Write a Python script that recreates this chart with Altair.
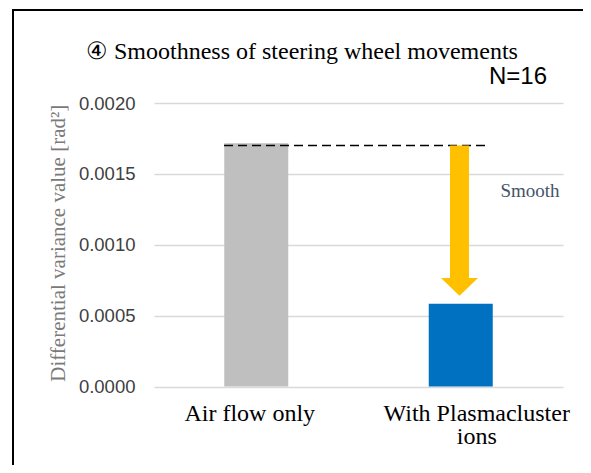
import altair as alt
import pandas as pd

categories = ["Air flow only", "With Plasmacluster ions"]
values = [0.001716, 0.000584]
bar_colors = ["#BFBFBF", "#0070C0"]
y_ticks = [0.0, 0.0005, 0.0010, 0.0015, 0.0020]
reference_level = 0.0017
arrow_shaft_end = 0.000766
smooth_label_y = 0.001337

df = pd.DataFrame({"cat": categories, "val": values, "color": bar_colors})
one = alt.Data(values=[{"a": 1}])

W, H = 409, 283.5

x_enc = alt.X(
    "cat:N",
    sort=categories,
    scale=alt.Scale(domain=categories, paddingInner=0, paddingOuter=0),
    axis=alt.Axis(
        title=None,
        labelAngle=0,
        labelFont="Liberation Serif",
        labelFontSize=24,
        labelColor="#000000",
        labelPadding=33.5,
        labelLineHeight=23.5,
        labelLimit=400,
        labelBaseline="alphabetic",
        labelOffset={"condition": {"test": "datum.value == 'Air flow only'", "value": -6.5}, "value": 16},
        labelExpr="datum.label == 'With Plasmacluster ions' ? ['With Plasmacluster', 'ions'] : datum.label",
        ticks=False,
        domain=False,
        grid=False,
    ),
)

y_scale = alt.Scale(domain=[0, 0.002], nice=False, zero=True)

border = alt.Chart(one).mark_rect(fill=None, stroke="#000000", strokeWidth=2, clip=False).encode(
    x=alt.value(-141), x2=alt.value(460), y=alt.value(-93), y2=alt.value(420)
)

bars = alt.Chart(df).mark_bar(size=64).encode(
    x=x_enc,
    y=alt.Y(
        "val:Q",
        scale=y_scale,
        axis=alt.Axis(
            values=y_ticks,
            format=".4f",
            title="Differential variance value [rad²]",
            titleFont="Liberation Serif",
            titleFontSize=21,
            titleFontWeight="normal",
            titleColor="#7A7A7A",
            titleX=-96,
            titleY=H / 2 - 2,
            titleAngle=-90,
            titleAlign="center",
            titleBaseline="middle",
            labelFont="Liberation Sans",
            labelFontSize=18.5,
            labelColor="#404040",
            labelPadding=19,
            ticks=False,
            domain=False,
            grid=True,
            gridColor="#D9D9D9",
            gridWidth=1.5,
        ),
    ),
    color=alt.Color("color:N", scale=None),
)

dashed = alt.Chart(pd.DataFrame({"y": [reference_level]})).mark_rule(
    color="#000000", strokeDash=[9, 5], strokeWidth=1.5
).encode(y=alt.Y("y:Q", scale=y_scale), x=alt.value(70), x2=alt.value(331))

shaft = alt.Chart(pd.DataFrame({"y": [reference_level], "y2": [arrow_shaft_end]})).mark_rule(
    color="#FFC000", strokeWidth=19
).encode(y=alt.Y("y:Q", scale=y_scale), y2="y2:Q", x=alt.value(305.5))

head = alt.Chart(pd.DataFrame({"y": [arrow_shaft_end]})).mark_point(
    shape="M-1,0L1,0L0,0.97Z", filled=True, fill="#FFC000", opacity=1, strokeWidth=0, size=1369
).encode(y=alt.Y("y:Q", scale=y_scale), x=alt.value(305.5))

smooth = alt.Chart(pd.DataFrame({"y": [smooth_label_y], "t": ["Smooth"]})).mark_text(
    align="left", baseline="alphabetic", font="Liberation Serif", fontSize=19, color="#44546A"
).encode(y=alt.Y("y:Q", scale=y_scale), x=alt.value(346.5), text="t:N")

title = alt.Chart(one).mark_text(
    align="left", baseline="alphabetic", font="Liberation Serif", fontSize=24, color="#000000", clip=False
).encode(x=alt.value(-68), y=alt.value(-44), text=alt.value("④ Smoothness of steering wheel movements"))

ntext = alt.Chart(one).mark_text(
    align="right", baseline="alphabetic", font="Liberation Sans", fontSize=24, color="#000000", clip=False
).encode(x=alt.value(393), y=alt.value(-19), text=alt.value("N=16"))

chart = alt.layer(border, bars, dashed, shaft, head, smooth, title, ntext).properties(
    width=W,
    height=H,
    autosize=alt.AutoSizeParams(type="none"),
    padding={"left": 146, "top": 95, "right": 20, "bottom": 78},
).configure_view(stroke=None)

chart.save("out.html", embed_options={"renderer": "svg", "actions": False})
